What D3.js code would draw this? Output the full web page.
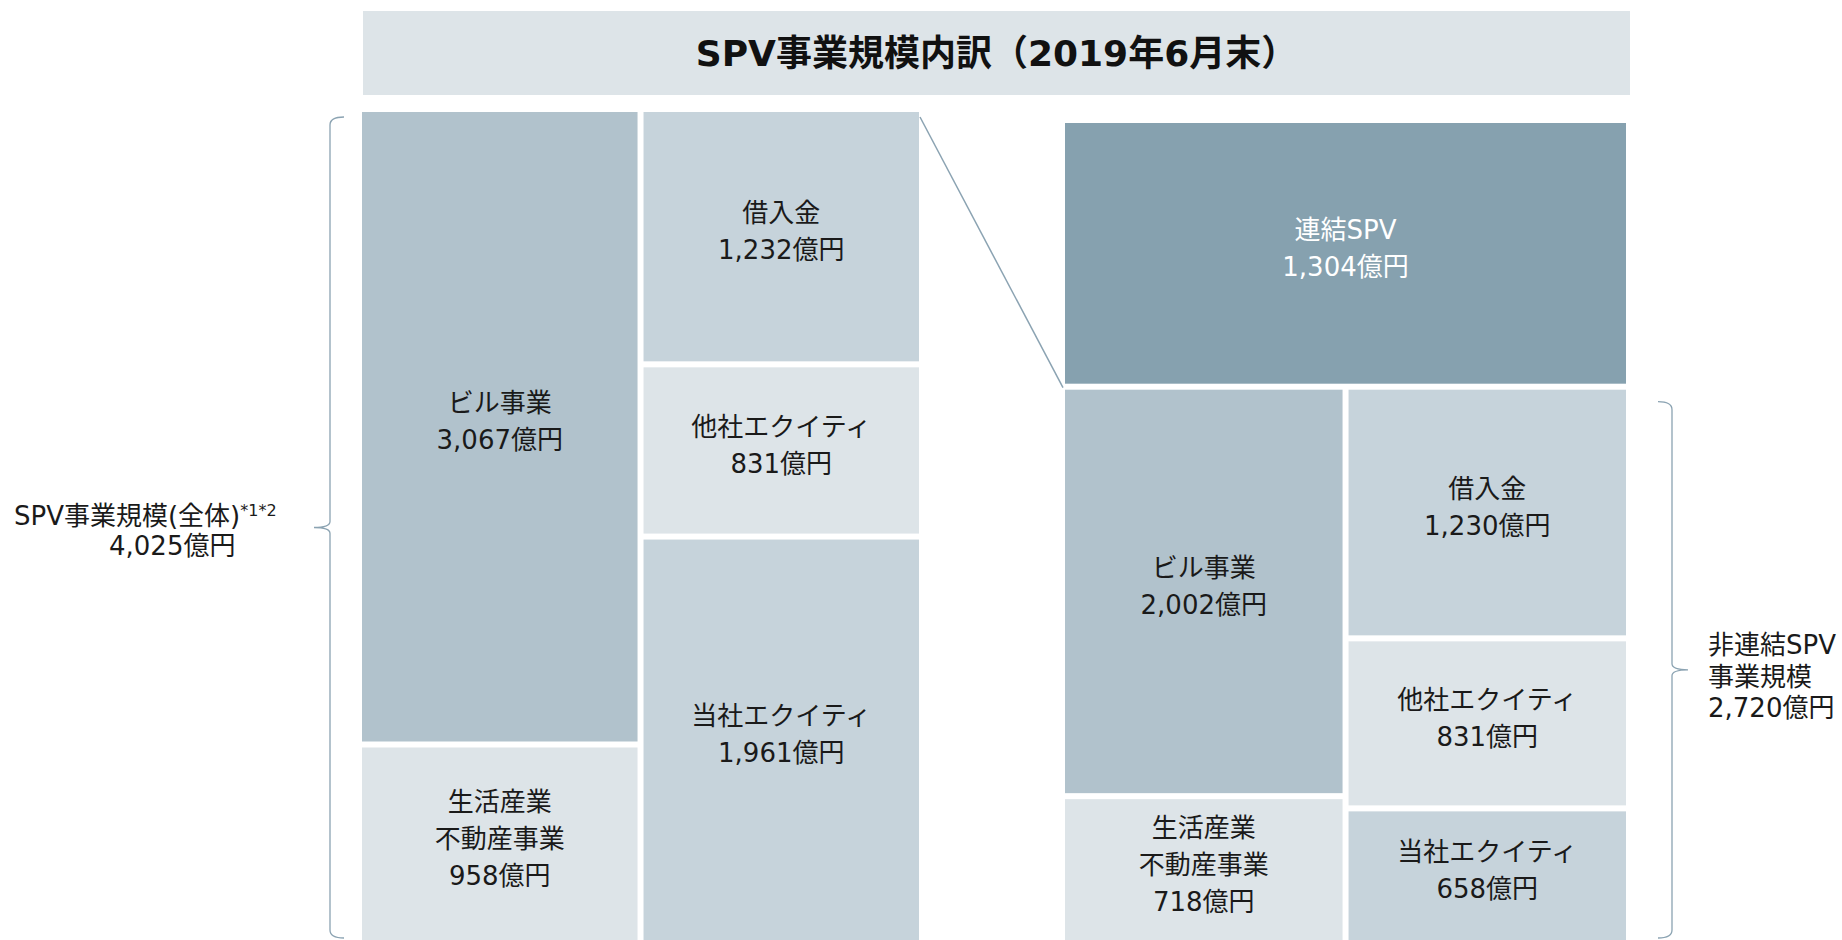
<!DOCTYPE html>
<html lang="ja">
<head>
<meta charset="utf-8">
<title>SPV事業規模内訳（2019年6月末）</title>
<script src="https://cdn.jsdelivr.net/npm/d3@7"></script>
<style>
  html, body { margin: 0; padding: 0; background: #ffffff; }
  svg { display: block; }
  text { font-family: "DejaVu Sans", "Noto Sans CJK JP", sans-serif; }
</style>
</head>
<body>
<svg id="chart" width="1842" height="940"></svg>
<script>
// ---- data (億円) ----
const titleText = "SPV事業規模内訳（2019年6月末）";

// SPV事業規模(全体): 運用側と調達側
const totalLabel = "SPV事業規模(全体)";
const totalNote = "*1*2";
const totalValue = 4025;
const assetLabels = [["ビル事業"], ["生活産業", "不動産事業"]];
const assetValues = [3067, 958];
const fundingLabels = [["借入金"], ["他社エクイティ"], ["当社エクイティ"]];
const fundingValues = [1232, 831, 1961];

// 連結SPV / 非連結SPV
const consolidatedLabel = ["連結SPV"];
const consolidatedValue = 1304;
const nonConsolidatedLabel = ["非連結SPV", "事業規模"];
const nonConsolidatedValue = 2720;
const ncAssetLabels = [["ビル事業"], ["生活産業", "不動産事業"]];
const ncAssetValues = [2002, 718];
const ncFundingLabels = [["借入金"], ["他社エクイティ"], ["当社エクイティ"]];
const ncFundingValues = [1230, 831, 658];

// ---- styles ----
const fills = {
  "ビル事業": "#b1c2cc",
  "生活産業": "#dde4e8",
  "借入金": "#c6d3db",
  "他社エクイティ": "#dde4e8",
  "当社エクイティ": "#c6d3db",
  "連結SPV": "#86a1af"
};
const accent = "#8ba3b2";
const labelSize = 26;
const fmt = v => d3.format(",")(v) + "億円";

const svg = d3.select("#chart");

// ---- title band ----
svg.append("rect")
  .attr("x", 363).attr("y", 11).attr("width", 1267).attr("height", 84)
  .attr("fill", "#dde4e8");
svg.append("text")
  .attr("x", 363 + 1267 / 2).attr("y", 53)
  .attr("dy", "0.35em")
  .attr("text-anchor", "middle")
  .attr("font-size", 36).attr("font-weight", "bold")
  .attr("fill", "#111")
  .text(titleText);

// ---- helpers ----
const leaves = (labels, values) => labels.map((l, i) => ({ lines: l, value: values[i] }));

// a balance-sheet pair: two side-by-side columns, each stacked top to bottom
function balanceLayout(leftItems, rightItems, w, h) {
  const root = d3.hierarchy({ children: [{ children: leftItems }, { children: rightItems }] })
    .sum(d => d.value || 0);
  d3.treemap().size([w, h]).paddingInner(6).tile(d3.treemapSliceDice)(root);
  return root;
}

function drawLeaves(g, nodes) {
  const cells = g.selectAll(null)
    .data(nodes)
    .join("g");
  cells.append("rect")
    .attr("x", d => d.x0).attr("y", d => d.y0)
    .attr("width", d => d.x1 - d.x0).attr("height", d => d.y1 - d.y0)
    .attr("fill", d => fills[d.data.lines[0]]);
  cells.each(function (d) {
    const lines = d.data.lines.concat([fmt(d.data.value)]);
    const cx = (d.x0 + d.x1) / 2;
    const cy = (d.y0 + d.y1) / 2 - 5;
    const step = 37;
    const t = d3.select(this).append("text")
      .attr("text-anchor", "middle")
      .attr("font-size", labelSize)
      .attr("fill", d.data.lines[0] === "連結SPV" ? "#ffffff" : "#1a1a1a");
    lines.forEach((s, i) => {
      t.append("tspan")
        .attr("x", cx)
        .attr("y", cy + (i - (lines.length - 1) / 2) * step)
        .attr("dy", "0.35em")
        .text(s);
    });
  });
}

function bracePath(x, yTop, yBot, dir) {
  const mid = (yTop + yBot) / 2;
  const p = d3.path();
  p.moveTo(x - dir * 14, yTop);
  p.quadraticCurveTo(x, yTop, x, yTop + 8);
  p.lineTo(x, mid - 6);
  p.quadraticCurveTo(x, mid, x + dir * 16, mid);
  p.quadraticCurveTo(x, mid, x, mid + 6);
  p.lineTo(x, yBot - 8);
  p.quadraticCurveTo(x, yBot, x - dir * 14, yBot);
  return p.toString();
}

// ---- left: SPV事業規模(全体) ----
const leftX = 362, leftY = 112, leftW = 557, leftH = 828;
const leftRoot = balanceLayout(leaves(assetLabels, assetValues),
                               leaves(fundingLabels, fundingValues), leftW, leftH);
const gLeft = svg.append("g").attr("transform", `translate(${leftX},${leftY})`);
drawLeaves(gLeft, leftRoot.leaves());

// ---- right: 連結 / 非連結 split of the whole ----
const rightX = 1065, rightY = 123, rightW = 561, rightH = 817;
const splitRoot = d3.hierarchy({
  children: [
    { lines: consolidatedLabel, value: consolidatedValue },
    { key: "nc", value: nonConsolidatedValue }
  ]
}).sum(d => d.value || 0);
d3.treemap().size([rightW, rightH]).paddingInner(6).tile(d3.treemapSlice)(splitRoot);
const consNode = splitRoot.children[0];
const ncNode = splitRoot.children[1];

const gRight = svg.append("g").attr("transform", `translate(${rightX},${rightY})`);
drawLeaves(gRight, [consNode]);

// 非連結 breakdown inside its own rectangle
const ncRoot = balanceLayout(leaves(ncAssetLabels, ncAssetValues),
                             leaves(ncFundingLabels, ncFundingValues),
                             ncNode.x1 - ncNode.x0, ncNode.y1 - ncNode.y0);
const gNc = gRight.append("g").attr("transform", `translate(${ncNode.x0},${ncNode.y0})`);
drawLeaves(gNc, ncRoot.leaves());

// connector from the whole-SPV stack to the 非連結 block
const fundingCol = leftRoot.children[1];
svg.append("line")
  .attr("x1", leftX + fundingCol.x1 + 1).attr("y1", leftY + fundingCol.y0 + 5)
  .attr("x2", rightX + ncNode.x0 - 2).attr("y2", rightY + ncNode.y0 - 2)
  .attr("stroke", accent).attr("stroke-width", 1.5);

// ---- left brace + label ----
const lbTop = leftY + 5, lbBot = leftY + leftH - 2;
svg.append("path")
  .attr("d", bracePath(330, lbTop, lbBot, -1))
  .attr("fill", "none").attr("stroke", accent).attr("stroke-width", 1.3);
const lbMid = (lbTop + lbBot) / 2;
const lt = svg.append("text").attr("font-size", labelSize).attr("fill", "#1a1a1a");
lt.append("tspan").attr("x", 14).attr("y", lbMid - 12).attr("dy", "0.35em").text(totalLabel);
lt.append("tspan").attr("font-size", 16).attr("dy", "-0.55em").text(totalNote);
svg.append("text").attr("font-size", labelSize).attr("fill", "#1a1a1a")
  .attr("x", 109).attr("y", lbMid + 18).attr("dy", "0.35em")
  .text(fmt(totalValue));

// ---- right brace + label ----
const rbTop = rightY + ncNode.y0 + 12, rbBot = rightY + rightH - 2;
svg.append("path")
  .attr("d", bracePath(1672, rbTop, rbBot, 1))
  .attr("fill", "none").attr("stroke", accent).attr("stroke-width", 1.3);
const rbMid = (rbTop + rbBot) / 2;
const rl = svg.append("text").attr("font-size", labelSize).attr("fill", "#1a1a1a");
nonConsolidatedLabel.concat([fmt(nonConsolidatedValue)]).forEach((s, i) => {
  rl.append("tspan")
    .attr("x", 1708)
    .attr("y", rbMid + 7 + (i - 1) * 31.5)
    .attr("dy", "0.35em")
    .text(s);
});
</script>
</body>
</html>
